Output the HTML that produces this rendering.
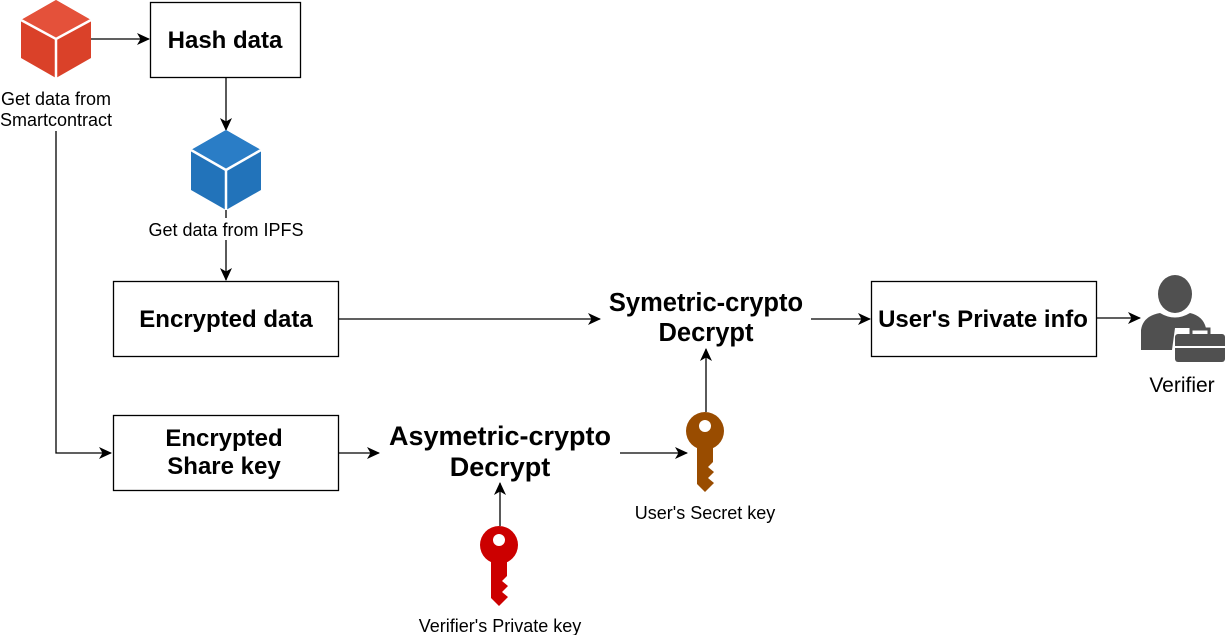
<!DOCTYPE html>
<html><head><style>body{margin:0;background:#fff}svg{display:block}text{font-family:"Liberation Sans",sans-serif}</style></head><body>
<svg width="1227" height="635" viewBox="0 0 1227 635" xmlns="http://www.w3.org/2000/svg">
<defs><marker id="a" markerWidth="14" markerHeight="12" refX="12" refY="6" orient="auto" markerUnits="userSpaceOnUse"><path d="M0,0 L13,6 L0,12 L3.5,6 Z" fill="#000"/></marker></defs>
<g stroke="#000" stroke-width="1.3" fill="none">
<line x1="91" y1="39" x2="149" y2="39" marker-end="url(#a)"/>
<line x1="226" y1="77" x2="226" y2="130" marker-end="url(#a)"/>
<line x1="226" y1="210" x2="226" y2="218"/>
<line x1="226" y1="240" x2="226" y2="280" marker-end="url(#a)"/>
<polyline points="56,131 56,453 111,453" marker-end="url(#a)"/>
<line x1="338" y1="319" x2="600" y2="319" marker-end="url(#a)"/>
<line x1="811" y1="319" x2="870" y2="319" marker-end="url(#a)"/>
<line x1="1096" y1="318" x2="1140" y2="318" marker-end="url(#a)"/>
<line x1="338" y1="453" x2="379" y2="453" marker-end="url(#a)"/>
<line x1="620" y1="453" x2="687" y2="453" marker-end="url(#a)"/>
<line x1="706" y1="412" x2="706" y2="349" marker-end="url(#a)"/>
<line x1="500" y1="526" x2="500" y2="483" marker-end="url(#a)"/>
<rect x="150.5" y="2.5" width="150" height="75"/>
<rect x="113.5" y="281.5" width="225" height="75"/>
<rect x="113.5" y="415.5" width="225" height="75"/>
<rect x="871.5" y="281.5" width="225" height="75"/>
</g>
<g>
<polygon points="56,0 91,20 91,58 56,78 21,58 21,20" fill="#DA4129"/>
<polygon points="56,0 91,20 56,39 21,20" fill="#E4513A"/>
<polyline points="21,20 56,39 91,20" stroke="#fff" stroke-width="2.5" fill="none"/>
<line x1="56" y1="39" x2="56" y2="78" stroke="#fff" stroke-width="2.5"/>
<polygon points="226,130 261,150 261,190 226,210 191,190 191,150" fill="#2273BA"/>
<polygon points="226,130 261,150 226,170 191,150" fill="#2A7DC6"/>
<polyline points="191,150 226,170 261,150" stroke="#fff" stroke-width="2.5" fill="none"/>
<line x1="226" y1="170" x2="226" y2="210" stroke="#fff" stroke-width="2.5"/>
</g>
<g fill="#CC0000"><circle cx="499" cy="545" r="19"/><polygon points="491,558 507,558 507,576 502,581 508,586 502,592 508,597 499,606 491,598"/></g>
<circle cx="499" cy="540" r="6" fill="#fff"/>
<g fill="#994C00"><circle cx="705" cy="431" r="19"/><polygon points="697,444 713,444 713,462 708,467 714,472 708,478 714,483 705,492 697,484"/></g>
<circle cx="705" cy="426" r="6" fill="#fff"/>
<g fill="#505050">
<ellipse cx="1175" cy="294" rx="17" ry="19"/>
<path d="M1141,350 L1141,330 Q1143,316 1160,313 Q1175,322 1190,313 Q1203,316 1206,328 L1175,328 L1172,350 Z"/>
<rect x="1175" y="334" width="50" height="28" rx="3"/>
<rect x="1191" y="329" width="18" height="8" fill="none" stroke="#505050" stroke-width="3"/>
</g>
<line x1="1175" y1="347" x2="1225" y2="347" stroke="#fff" stroke-width="2"/>
<g fill="#000" text-anchor="middle">
<text x="225" y="48" font-size="24" font-weight="bold">Hash data</text>
<text x="226" y="327" font-size="24" font-weight="bold">Encrypted data</text>
<text x="224" y="446" font-size="24" font-weight="bold">Encrypted</text>
<text x="224" y="474" font-size="24" font-weight="bold">Share key</text>
<text x="983" y="327" font-size="24" font-weight="bold">User's Private info</text>
<text x="706" y="311" font-size="25.5" font-weight="bold">Symetric-crypto</text>
<text x="706" y="341" font-size="25.5" font-weight="bold">Decrypt</text>
<text x="500" y="445" font-size="27" font-weight="bold">Asymetric-crypto</text>
<text x="500" y="476" font-size="27" font-weight="bold">Decrypt</text>
<text x="56" y="105" font-size="18">Get data from</text>
<text x="56" y="126" font-size="18">Smartcontract</text>
<text x="226" y="236" font-size="18">Get data from IPFS</text>
<text x="705" y="519" font-size="18">User's Secret key</text>
<text x="500" y="632" font-size="18">Verifier's Private key</text>
<text x="1182" y="392" font-size="21">Verifier</text>
</g>
</svg>
</body></html>
